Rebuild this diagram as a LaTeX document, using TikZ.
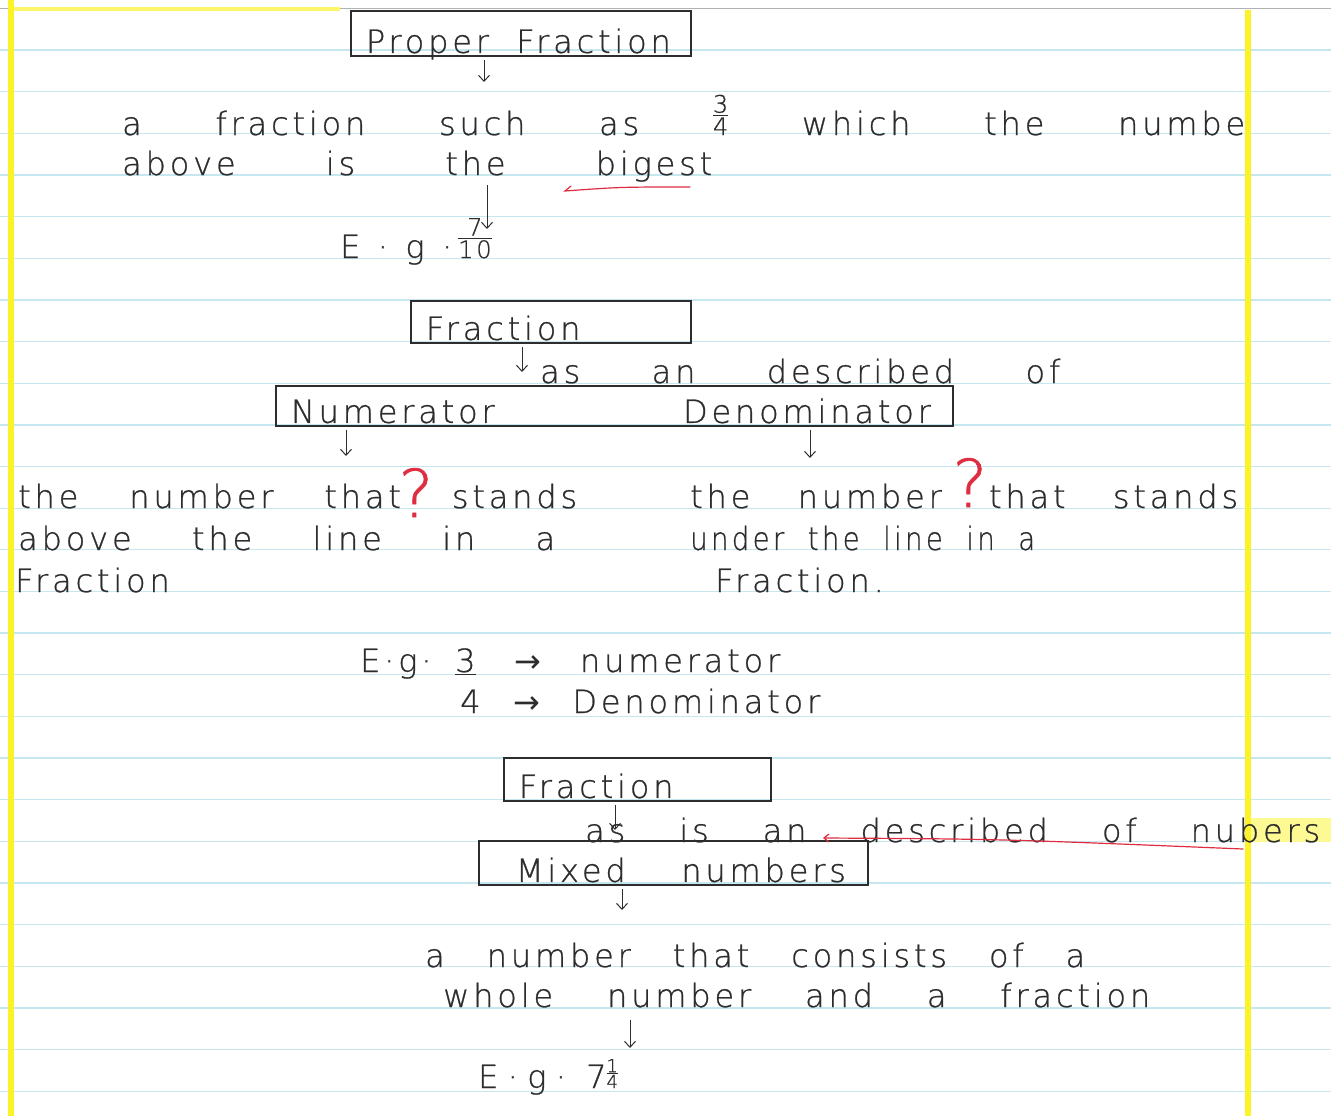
\documentclass[tikz,border=0pt]{standalone}
\usepackage{fontspec}
\usepackage{graphicx}
\setmainfont{DejaVuSans-ExtraLight.ttf}[LetterSpace=12,FakeBold=0.8]
\newfontfamily\symfont{DejaVu Sans}
\usetikzlibrary{positioning,arrows.meta}
\definecolor{ink}{RGB}{45,45,45}
\definecolor{pen}{RGB}{222,45,65}
\definecolor{ruled}{RGB}{198,230,240}
\definecolor{marg}{RGB}{252,242,40}
% spread the words of one written line over a width
\newcommand\wline[2]{{\spaceskip=0pt\xspaceskip=0pt\makebox[#1pt][s]{#2}}}
% small stacked fraction: size, top, bottom
\newcommand\pfrac[3]{{\fontsize{#1}{#1}\selectfont\setlength\arrayrulewidth{1pt}%
  \begin{tabular}[b]{@{}c@{}}#2\\[-5pt]\hline\rule{0pt}{0.8em}#3\end{tabular}}}

\begin{document}
\begin{tikzpicture}[x=1pt,y=-1pt,
hand/.style={text=ink,inner sep=0pt,anchor=base west,font=\fontsize{32}{38}\selectfont},
box/.style={draw=ink,line width=1.8pt,anchor=north west,inner xsep=15pt,inner ysep=0pt,
  text depth=3pt,align=left,text=ink,font=\fontsize{32}{38}\selectfont},
arr/.style={draw=ink,line width=1pt,-{Straight Barb[length=6pt,width=11pt]},shorten <=3pt},
redpen/.style={draw=pen,line width=1.2pt,line cap=round},
qmark/.style={text=pen,inner sep=0pt,anchor=base,font=\fontsize{66}{66}\selectfont}]

% the notebook page
\useasboundingbox (0,0) rectangle (1331,1116);
\fill[white] (0,0) rectangle (1331,1116);
\foreach \k in {0,...,25}
  \draw[ruled,line width=1.3pt] (0,{50+41.65*\k}) -- (1331,{50+41.65*\k});
\draw[gray!60,line width=1pt] (0,9) -- (1331,9);
\fill[marg] (8,0) rectangle (14,1116);
\fill[marg!70] (14,7) rectangle (340,11);
\fill[marg] (1245,10) rectangle (1251,1116);
\fill[marg!50] (1251,818) rectangle (1331,842);

% boxes
\node[box,text width=310pt,text height=42pt] (pf) at (350,10) {\wline{305}{Proper Fraction}};
\node[box,text width=250pt,text height=39pt] (fr1) at (410,300) {Fraction};
\node[box,text width=647pt,text height=37pt] (nd) at (275,385) {\wline{640}{Numerator Denominator}};
\node[box,text width=237pt,text height=40pt] (fr2) at (503,757) {Fraction};
\node[box,text width=359pt,text height=41pt] (mx) at (478,840) {\hspace*{22pt}\wline{330}{Mixed numbers}};

% written lines
\node[hand] (l1) at (122,135) {\wline{1123}{a fraction such as \pfrac{24}{3}{4} which the numbe}};
\node[hand] (l2) at (122,175) {\wline{590}{above is the bigest}};
\node[hand] (eg1) at (340,258) {\wline{112}{E · g ·}\hspace{6pt}\pfrac{24}{7}{10}};
\node[hand] (l3) at (540,383) {\wline{520}{as an described of}};
\node[hand] (c1) at (18,508) {\wline{559}{the number that stands}};
\node[hand] (c2) at (18,550) {\wline{537}{above the line in a}};
\node[hand] (c3) at (15,592) {Fraction};
\node[hand] (d1) at (690,508) {\wline{548}{the number that stands}};
\node[hand] (d2) at (690,550) {\resizebox{345pt}{\height}{\wline{400}{under the line in a}}};
\node[hand] (d3) at (715,592) {Fraction.};
\node[hand] (eg2) at (360,672) {E·g·};
\node[hand] (nu) at (455,672) {\wline{325}{\underline{3} {\symfont →} numerator}};
\node[hand] (de) at (460,713) {\wline{360}{4 {\symfont →} Denominator}};
\node[hand] (l8) at (585,842) {\wline{735}{as is an described of nubers}};
\node[hand] (l9) at (425,967) {\wline{660}{a number that consists of a}};
\node[hand] (l10) at (443,1007) {\wline{707}{whole number and a fraction}};
\node[hand] (eg3) at (478,1088) {\wline{82}{E · g ·}\hspace{26pt}7\pfrac{18}{1}{4}};

% teacher's marks
\node[qmark] (q1) at (416,517) {?};
\node[qmark] (q2) at (970,507) {?};
\draw[redpen] (571,186) -- (565,191) .. controls (620,187) .. (690,187);
\draw[redpen,{Straight Barb[length=5pt,width=8pt]}-] (823,838) .. controls (1000,839) .. (1243,849);

% arrows
\coordinate (h1) at (484,82);
\coordinate (h2) at (487,229);
\coordinate (h3) at (522,372);
\coordinate (h4) at (346,456);
\coordinate (h5) at (810,458);
\coordinate (h6) at (615,830);
\coordinate (h7) at (622,910);
\coordinate (h8) at (630,1048);
\draw[arr] (pf.south -| h1) -- (h1);
\draw[arr] (l2.south -| h2) -- (h2);
\draw[arr] (fr1.south -| h3) -- (h3);
\draw[arr] (nd.south -| h4) -- (h4);
\draw[arr] (nd.south -| h5) -- (h5);
\draw[arr] (fr2.south -| h6) -- (h6);
\draw[arr] (mx.south -| h7) -- (h7);
\draw[arr,shorten <=12pt] (l10.south -| h8) -- (h8);
\end{tikzpicture}
\end{document}
